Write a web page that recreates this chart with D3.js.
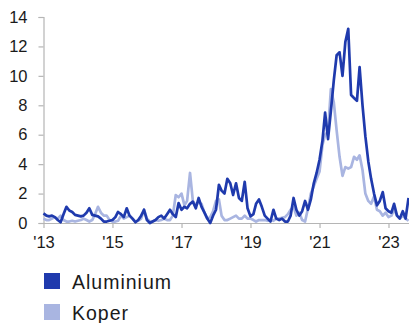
<!DOCTYPE html>
<html>
<head>
<meta charset="utf-8">
<script src="https://cdn.jsdelivr.net/npm/d3@7"></script>
<style>
  html, body { margin: 0; padding: 0; background: #fff; }
  svg { display: block; font-family: "Liberation Sans", Arial, sans-serif; }
</style>
</head>
<body>
<svg id="chart" width="409" height="323"></svg>
<script>
// Monthly series, January 2013 onwards
const startYear = 2013;
const aluminium = [
  0.65, 0.5, 0.45, 0.5, 0.4, 0.2, 0.05, 0.6, 1.1, 0.85, 0.75, 0.55,
  0.5, 0.45, 0.5, 0.7, 1.0, 0.55, 0.5, 0.45, 0.3, 0.1, 0.1, 0.15,
  0.2, 0.4, 0.75, 0.6, 0.4, 1.0, 0.5, 0.3, 0.05, 0.2, 0.5, 0.9,
  0.2, 0.0, 0.1, 0.2, 0.4, 0.5, 0.3, 0.6, 0.9, 0.6, 0.4, 1.35,
  0.9, 1.1, 1.0, 1.3, 1.45, 1.0, 1.7, 1.1, 0.7, 0.3, 0.0, 0.5,
  0.9, 2.6, 2.2, 2.0, 3.0, 2.7, 1.9, 2.7, 1.7, 1.5, 2.8, 1.0,
  0.45, 0.6, 1.3, 1.6, 1.1, 0.5, 0.3, 0.1, 0.9, 0.3, 0.2, 0.3,
  0.1, 0.1, 0.5, 1.7, 0.9, 0.5, 0.8, 1.5, 0.9, 1.6, 2.7, 3.4,
  4.3, 5.6, 7.5, 5.7, 7.6, 9.7, 11.4, 11.6, 10.0, 12.3, 13.2, 8.7,
  8.5, 8.3, 10.6, 8.0, 5.9, 4.2, 3.0, 2.0, 1.2, 1.5, 2.1, 1.0,
  0.8, 0.7, 1.3, 0.5, 0.3, 0.8, 0.3, 1.7
];
const koper = [
  0.3, 0.2, 0.2, 0.3, 0.4, 0.3, 0.5, 0.2, 0.1, 0.1, 0.15, 0.1,
  0.15, 0.2, 0.3, 0.2, 0.1, 0.2, 0.6, 1.1, 0.7, 0.5, 0.5, 0.2,
  0.1, 0.1, 0.15, 0.5, 0.3, 0.4, 0.5, 0.3, 0.1, 0.15, 0.3, 0.9,
  0.3, 0.1, 0.1, 0.2, 0.15, 0.2, 0.3, 0.2, 0.2, 0.5, 1.9, 1.75,
  2.0, 1.2, 1.5, 3.4, 1.5, 1.2, 1.4, 1.3, 0.7, 0.3, 0.4, 0.8,
  1.5, 1.6, 0.5, 0.2, 0.2, 0.3, 0.4, 0.5, 0.3, 0.3, 0.5, 0.3,
  0.3, 0.2, 0.1, 0.2, 0.2, 0.2, 0.15, 0.2, 0.15, 0.3, 0.3, 0.35,
  0.4, 0.6, 0.9, 1.1, 0.5, 0.7, 0.2, 0.1, 1.0, 2.0, 2.5, 3.0,
  3.5, 5.3, 6.0, 6.2, 9.1, 8.2, 6.3, 4.5, 3.2, 3.8, 3.7, 3.8,
  4.5, 4.3, 4.6, 3.6, 2.0, 1.5, 1.3, 1.8, 0.9, 0.8, 0.5, 0.7,
  0.4, 0.5, 0.9, 0.5, 0.3, 0.5, 0.3, 0.15
];
const yTicks = [0, 2, 4, 6, 8, 10, 12, 14];
const xTickYears = [2013, 2015, 2017, 2019, 2021, 2023];
const seriesNames = ["Aluminium", "Koper"];
const seriesColors = ["#1f3aad", "#a9b5e1"];

const svg = d3.select("#chart");
const plot = { left: 43.5, right: 388.5, top: 17, bottom: 223 };

const x = d3.scaleTime()
  .domain([new Date(2013, 0, 1), new Date(2023, 0, 1)])
  .range([plot.left, plot.right]);
const y = d3.scaleLinear().domain([0, 14]).range([plot.bottom, plot.top]);

const dateOf = i => new Date(startYear, i, 1);

// axes
const yAxis = svg.append("g")
  .attr("transform", `translate(${plot.left},0)`)
  .call(d3.axisLeft(y).tickValues(yTicks).tickSize(5).tickPadding(11).tickFormat(d3.format("d")));
const xAxis = svg.append("g")
  .attr("transform", `translate(0,${plot.bottom})`)
  .call(d3.axisBottom(x)
    .tickValues(xTickYears.map(yr => new Date(yr, 0, 1)))
    .tickSize(5).tickPadding(8)
    .tickFormat(d => "'" + String(d.getFullYear()).slice(2)));
xAxis.select(".domain").attr("d", `M${plot.left},0.5H409`);

[yAxis, xAxis].forEach(g => {
  g.selectAll(".domain, .tick line").attr("stroke", "#b5b5b5").attr("stroke-width", 1.2);
  g.selectAll("text").attr("fill", "#1a1a1a").style("font-size", "16.5px")
    .style("font-family", "'Liberation Sans', Arial, sans-serif");
});

// lines
const line = d3.line()
  .x((d, i) => x(dateOf(i)))
  .y(d => y(d))
  .curve(d3.curveLinear);

svg.append("path").datum(koper)
  .attr("fill", "none").attr("stroke", seriesColors[1])
  .attr("stroke-width", 2.7).attr("stroke-linejoin", "round")
  .attr("d", line);
svg.append("path").datum(aluminium)
  .attr("fill", "none").attr("stroke", seriesColors[0])
  .attr("stroke-width", 2.7).attr("stroke-linejoin", "round")
  .attr("d", line);

// legend
const legend = svg.append("g");
seriesNames.forEach((name, i) => {
  const row = legend.append("g").attr("transform", `translate(44,${273 + i * 31})`);
  row.append("rect").attr("width", 16).attr("height", 16).attr("fill", seriesColors[i]);
  row.append("text").attr("x", 28).attr("y", 15.5)
    .attr("fill", "#1a1a1a")
    .style("font-size", "19.5px").style("letter-spacing", "1px")
    .text(name);
});
</script>
</body>
</html>
